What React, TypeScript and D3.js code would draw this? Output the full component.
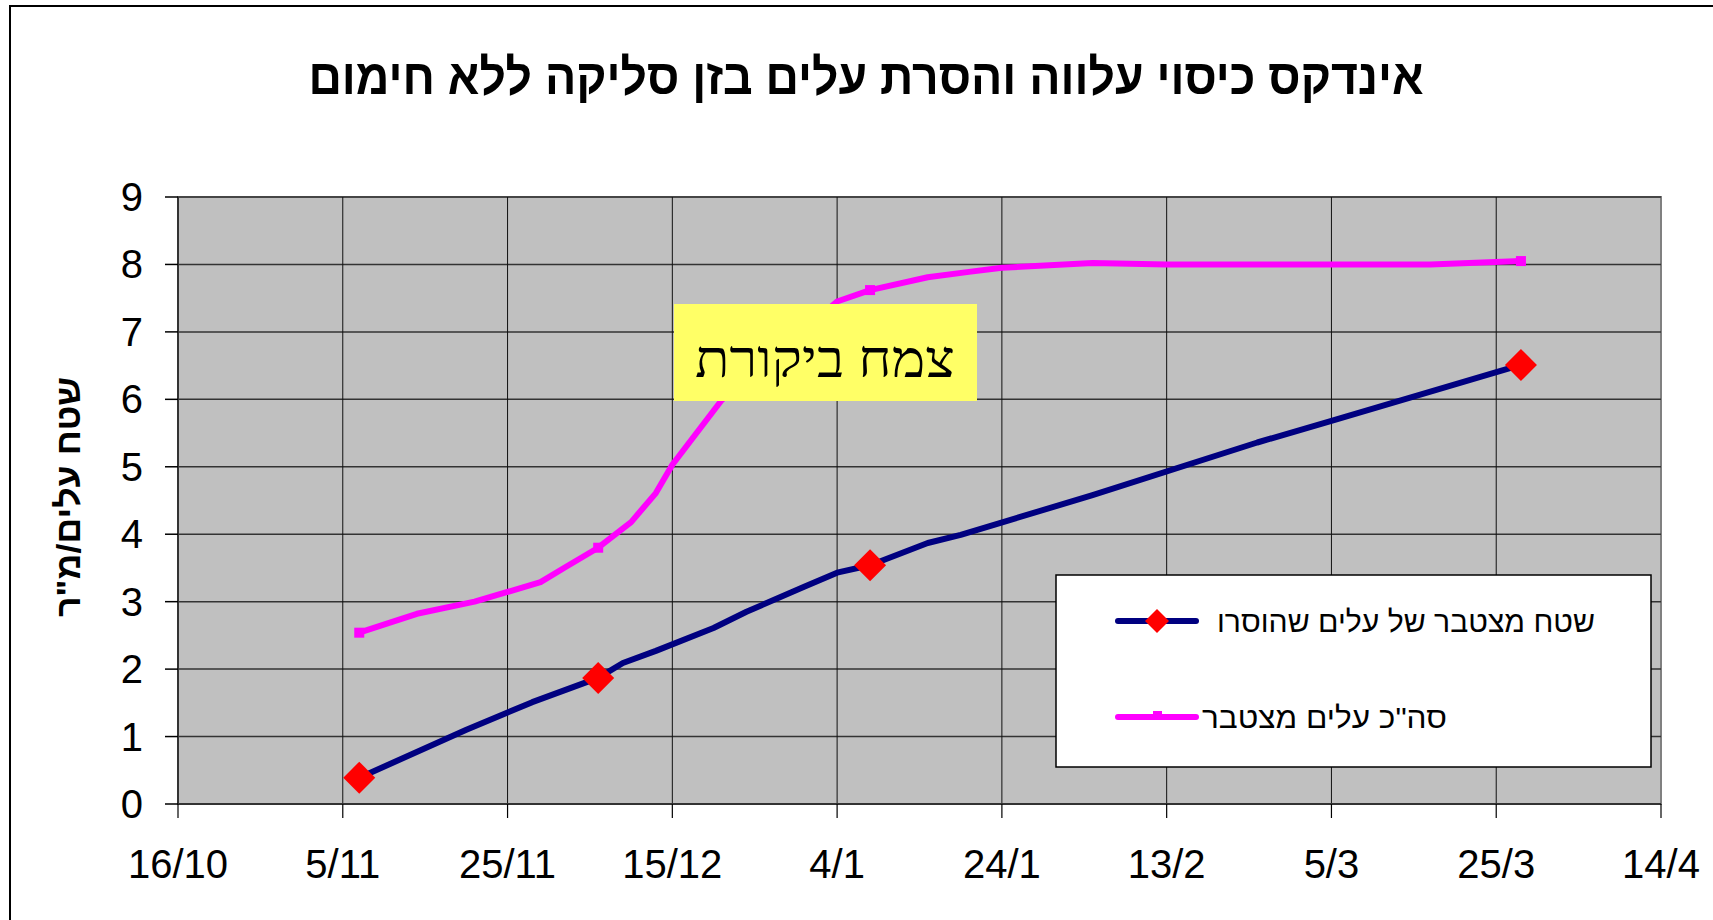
import React, { useEffect } from 'react';
import * as d3 from 'd3';

// dates are day/month, season 2005-2006
const xTicks = ['2005-10-16', '2005-11-05', '2005-11-25', '2005-12-15', '2006-01-04', '2006-01-24', '2006-02-13', '2006-03-05', '2006-03-25', '2006-04-14'];
const yTicks = [0, 1, 2, 3, 4, 5, 6, 7, 8, 9];

// שטח מצטבר של עלים שהוסרו
const removedDates = ['2005-11-07', '2005-11-20', '2005-11-28', '2005-12-06', '2005-12-09', '2005-12-13', '2005-12-20', '2005-12-24', '2005-12-31', '2006-01-04', '2006-01-08', '2006-01-15', '2006-01-19', '2006-02-04', '2006-02-24', '2006-03-05', '2006-03-28'];
const removedValues = [0.39, 1.1, 1.51, 1.87, 2.09, 2.27, 2.61, 2.85, 3.22, 3.43, 3.54, 3.87, 3.99, 4.58, 5.36, 5.68, 6.51];
const removedMarked = ['2005-11-07', '2005-12-06', '2006-01-08', '2006-03-28'];

// סה"כ עלים מצטבר
const totalDates = ['2005-11-07', '2005-11-11', '2005-11-14', '2005-11-21', '2005-11-29', '2005-12-02', '2005-12-06', '2005-12-10', '2005-12-13', '2005-12-15', '2005-12-21', '2006-01-04', '2006-01-08', '2006-01-15', '2006-01-20', '2006-01-24', '2006-02-04', '2006-02-13', '2006-03-17', '2006-03-28'];
const totalValues = [2.54, 2.7, 2.82, 3.0, 3.29, 3.51, 3.8, 4.18, 4.61, 5.03, 5.99, 7.45, 7.62, 7.81, 7.89, 7.95, 8.02, 8.0, 8.0, 8.05];
const totalMarked = ['2005-11-07', '2005-12-06', '2006-01-08', '2006-03-28'];

const title = 'אינדקס כיסוי עלווה והסרת עלים בזן סליקה ללא חימום';
const yTitle = 'שטח עלים/מ"ר';
const seriesNames = ['שטח מצטבר של עלים שהוסרו', 'סה"כ עלים מצטבר'];
const note = 'צמח ביקורת';

const parse = d3.utcParse('%Y-%m-%d');
const fmt = d3.utcFormat('%-d/%-m');

const W = 1713, H = 920;
const plot = { left: 178, right: 1661, top: 197, bottom: 804 };

export default function App() {
  useEffect(() => {
    document.body.style.margin = '0';
    document.body.style.overflow = 'hidden';
  }, []);

  const x = d3.scaleUtc()
    .domain([parse(xTicks[0])!, parse(xTicks[xTicks.length - 1])!])
    .range([plot.left, plot.right]);
  const y = d3.scaleLinear().domain([0, 9]).range([plot.bottom, plot.top]);

  const line = d3.line<[string, number]>()
    .x(d => x(parse(d[0])!))
    .y(d => y(d[1]));

  const removed: [string, number][] = removedDates.map((d, i) => [d, removedValues[i]]);
  const total: [string, number][] = totalDates.map((d, i) => [d, totalValues[i]]);
  const valueAt = (dates: string[], vals: number[], d: string) => vals[dates.indexOf(d)];

  const diamond = (cx: number, cy: number, r: number) =>
    `M${cx},${cy - r}L${cx + r},${cy}L${cx},${cy + r}L${cx - r},${cy}Z`;

  const legend = { x: 1056, y: 575, w: 595, h: 192 };
  const sans = 'Liberation Sans, Arial, sans-serif';

  return (
    <svg width={W} height={H} style={{ position: 'absolute', left: 0, top: 0, background: '#fff' }}>
      <rect x={10} y={6} width={W + 20} height={H + 20} fill="#fff" stroke="#000" strokeWidth={2} />

      <text x={866} y={94} textAnchor="middle" fontFamily={sans} fontWeight="bold"
        fontSize={50} textLength={1115} lengthAdjust="spacingAndGlyphs">{title}</text>

      <rect x={plot.left} y={plot.top} width={plot.right - plot.left} height={plot.bottom - plot.top}
        fill="#c0c0c0" stroke="#808080" strokeWidth={2} />

      {yTicks.slice(1).map(t => (
        <line key={'gy' + t} x1={plot.left} x2={plot.right} y1={y(t)} y2={y(t)} stroke="#333" strokeWidth={1.5} />
      ))}
      {xTicks.slice(1, -1).map(t => (
        <line key={'gx' + t} x1={x(parse(t)!)} x2={x(parse(t)!)} y1={plot.top} y2={plot.bottom} stroke="#111" strokeWidth={1} />
      ))}

      {/* axes */}
      <line x1={plot.left} x2={plot.left} y1={plot.top} y2={plot.bottom} stroke="#333" strokeWidth={2} />
      <line x1={plot.left} x2={plot.right} y1={plot.bottom} y2={plot.bottom} stroke="#333" strokeWidth={2} />
      {yTicks.map(t => (
        <g key={'ty' + t}>
          <line x1={plot.left - 13} x2={plot.left} y1={y(t)} y2={y(t)} stroke="#000" strokeWidth={1.5} />
          <text x={143} y={y(t) + 14} textAnchor="end" fontFamily={sans} fontSize={40}>{t}</text>
        </g>
      ))}
      {xTicks.map(t => (
        <g key={'tx' + t}>
          <line x1={x(parse(t)!)} x2={x(parse(t)!)} y1={plot.bottom} y2={plot.bottom + 14} stroke="#000" strokeWidth={1.2} />
          <text x={x(parse(t)!)} y={878} textAnchor="middle" fontFamily={sans} fontSize={40}>{fmt(parse(t)!)}</text>
        </g>
      ))}

      <text transform="translate(80,497) rotate(-90)" textAnchor="middle" fontFamily={sans}
        fontWeight="bold" fontSize={34} textLength={240} lengthAdjust="spacingAndGlyphs">{yTitle}</text>

      {/* series */}
      <path d={line(total)!} fill="none" stroke="#ff00ff" strokeWidth={6} strokeLinejoin="round" />
      {totalMarked.map(d => (
        <rect key={'tm' + d} x={x(parse(d)!) - 5} y={y(valueAt(totalDates, totalValues, d)) - 5} width={10} height={10} fill="#ff00ff" />
      ))}
      <path d={line(removed)!} fill="none" stroke="#000080" strokeWidth={6} strokeLinejoin="round" />
      {removedMarked.map(d => (
        <path key={'rm' + d} d={diamond(x(parse(d)!), y(valueAt(removedDates, removedValues, d)), 16)} fill="#ff0000" />
      ))}

      {/* annotation */}
      <rect x={674} y={304} width={303} height={97} fill="#ffff66" />
      <text x={825} y={377} textAnchor="middle" fontFamily="Liberation Serif, Times New Roman, serif" fontSize={52}
        textLength={260} lengthAdjust="spacingAndGlyphs">{note}</text>

      {/* legend */}
      <rect x={legend.x} y={legend.y} width={legend.w} height={legend.h} fill="#fff" stroke="#000" strokeWidth={1.5} />
      <line x1={1118} x2={1196} y1={621} y2={621} stroke="#000080" strokeWidth={6} strokeLinecap="round" />
      <path d={diamond(1157, 621, 12)} fill="#ff0000" />
      <text x={1217} y={632} fontFamily={sans} fontSize={30} textLength={378} lengthAdjust="spacingAndGlyphs">{seriesNames[0]}</text>
      <line x1={1118} x2={1196} y1={717} y2={717} stroke="#ff00ff" strokeWidth={6} strokeLinecap="round" />
      <rect x={1153} y={711} width={9} height={9} fill="#ff00ff" />
      <text x={1202} y={728} fontFamily={sans} fontSize={30} textLength={245} lengthAdjust="spacingAndGlyphs">{seriesNames[1]}</text>
    </svg>
  );
}
